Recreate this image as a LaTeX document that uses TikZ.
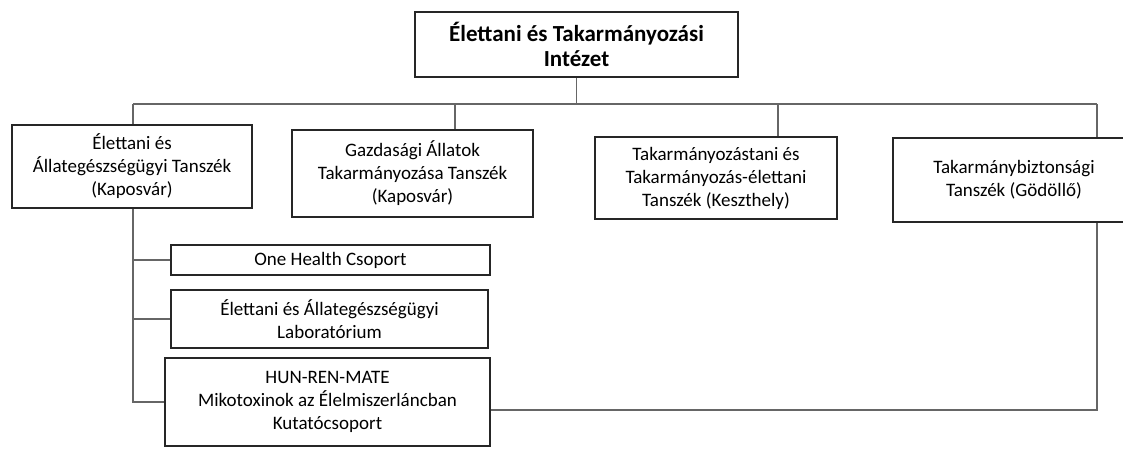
\documentclass[tikz,border=0pt]{standalone}
\usepackage{fontspec}
\setmainfont{Carlito}

\begin{document}
\begin{tikzpicture}[x=1pt,y=-1pt,
        box/.style={draw=black!85,line width=2.4pt,align=center,inner sep=0pt,
            font=\fontsize{19}{23}\selectfont},
        link/.style={draw=black!60,line width=1.1pt}]
\useasboundingbox (0,0) rectangle (1123,448);

\node[box,minimum width=323pt,minimum height=65pt,
    font=\fontsize{23}{25}\selectfont\bfseries] (inst) at (576.5,44.5)
    {Élettani és Takarmányozási\\Intézet};

\node[box,minimum width=240pt,minimum height=83pt] (dep1) at (132,166.5)
    {Élettani és\\Állategészségügyi Tanszék\\(Kaposvár)};
\node[box,minimum width=241pt,minimum height=87pt] (dep2) at (412.5,173.5)
    {Gazdasági Állatok\\Takarmányozása Tanszék\\(Kaposvár)};
\node[box,minimum width=242pt,minimum height=82pt] (dep3) at (716,178)
    {Takarmányozástani és\\Takarmányozás-élettani\\Tanszék (Keszthely)};
\node[box,minimum width=242pt,minimum height=84pt] (dep4) at (1014,180)
    {Takarmánybiztonsági\\Tanszék (Gödöllő)};

\node[box,minimum width=319pt,minimum height=30pt] (oh) at (330.5,260)
    {One Health Csoport};
\node[box,minimum width=317pt,minimum height=58pt] (lab) at (329.5,319)
    {Élettani és Állategészségügyi\\Laboratórium};
\node[box,minimum width=325pt,minimum height=88pt] (hun) at (327.5,402)
    {HUN-REN-MATE\\Mikotoxinok az Élelmiszerláncban\\Kutatócsoport};

% bus
\coordinate (busL) at (133,104);
\coordinate (busR) at (1097,104);
\coordinate (d2) at (455,104);
\coordinate (d3) at (778,104);
\draw[link] (busL) -- (busR);
\draw[link] (inst.south) -- (inst.south |- busL);
\draw[link] (busL) -- (busL |- dep1.north);
\draw[link] (d2) -- (d2 |- dep2.north);
\draw[link] (d3) -- (d3 |- dep3.north);
\draw[link] (busR) -- (busR |- dep4.north);

% groups
\draw[link] (busL |- dep1.south) -- (busL |- hun.west) -- (hun.west);
\draw[link] (busL |- oh.west) -- (oh.west);
\draw[link] (busL |- lab.west) -- (lab.west);

\coordinate (ret) at (1097,410);
\draw[link] (hun.east |- ret) -- (ret) -- (ret |- dep4.south);

\end{tikzpicture}
\end{document}
